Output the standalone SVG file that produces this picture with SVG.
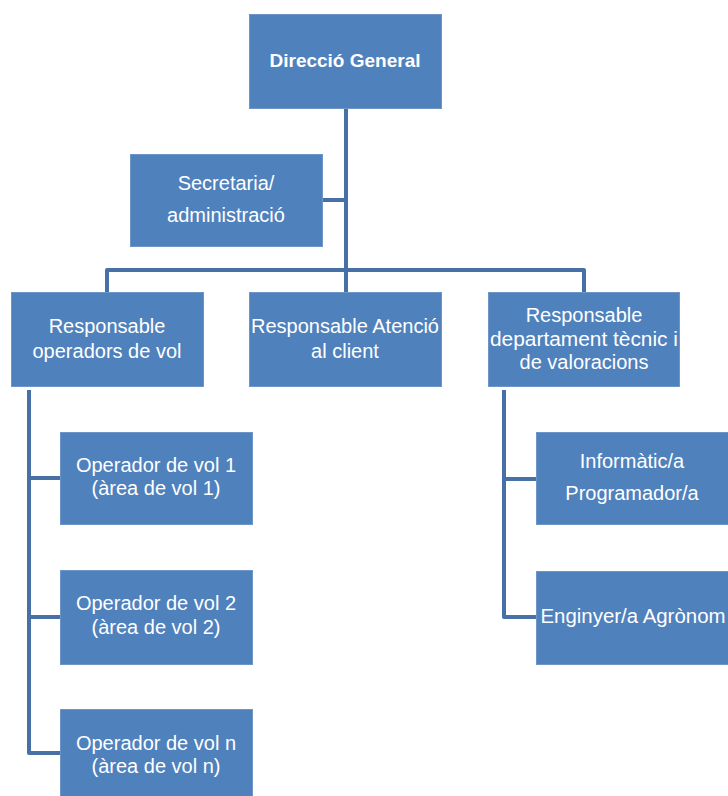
<svg xmlns="http://www.w3.org/2000/svg" width="728" height="796" viewBox="0 0 728 796">
<style>
.box{fill:#4F81BD;stroke:#6E95C8;stroke-width:1}
.t{font-family:"Liberation Sans",Arial,sans-serif;font-size:20px;fill:#FFFFFF;text-anchor:middle}
.b{font-weight:bold;font-size:19px}
.c{fill:none;stroke:#4670A6;stroke-width:4;stroke-linejoin:round;stroke-linecap:butt}
</style>
<rect width="728" height="796" fill="#FFFFFF"/>
<g id="connectors">
<path class="c" d="M346 108 V270"/>
<path class="c" d="M322 200 H346"/>
<path class="c" d="M107 292 V270 H584 V292"/>
<path class="c" d="M346 270 V292"/>
<path class="c" d="M29 390 V753 H60"/>
<path class="c" d="M29 478 H60"/>
<path class="c" d="M29 617 H60"/>
<path class="c" d="M504 390 V617 H536"/>
<path class="c" d="M504 479 H536"/>
</g>
<g id="direccio">
<rect class="box" x="249.5" y="14.5" width="192" height="94"/>
<text class="t b" x="345" y="67" textLength="151" lengthAdjust="spacingAndGlyphs">Direcció General</text>
</g>
<g id="secretaria">
<rect class="box" x="130.5" y="154.5" width="192" height="92"/>
<text class="t" x="226" y="190">Secretaria/</text>
<text class="t" x="226" y="222">administració</text>
</g>
<g id="resp-operadors">
<rect class="box" x="11.5" y="292.5" width="192" height="94"/>
<text class="t" x="107" y="333">Responsable</text>
<text class="t" x="107" y="358">operadors de vol</text>
</g>
<g id="resp-atencio">
<rect class="box" x="249.5" y="292.5" width="192" height="94"/>
<text class="t" x="345" y="333" textLength="188" lengthAdjust="spacingAndGlyphs">Responsable Atenció</text>
<text class="t" x="345" y="358">al client</text>
</g>
<g id="resp-tecnic">
<rect class="box" x="488.5" y="292.5" width="191" height="94"/>
<text class="t" x="584" y="322">Responsable</text>
<text class="t" x="584" y="346" textLength="188" lengthAdjust="spacingAndGlyphs">departament tècnic i</text>
<text class="t" x="584" y="369">de valoracions</text>
</g>
<g id="operador1">
<rect class="box" x="60.5" y="432.5" width="192" height="92"/>
<text class="t" x="156" y="472">Operador de vol 1</text>
<text class="t" x="156" y="495">(àrea de vol 1)</text>
</g>
<g id="operador2">
<rect class="box" x="60.5" y="570.5" width="192" height="94"/>
<text class="t" x="156" y="610">Operador de vol 2</text>
<text class="t" x="156" y="634">(àrea de vol 2)</text>
</g>
<g id="operadorn">
<rect class="box" x="60.5" y="709.5" width="192" height="90"/>
<text class="t" x="156" y="750">Operador de vol n</text>
<text class="t" x="156" y="773">(àrea de vol n)</text>
</g>
<g id="informatic">
<rect class="box" x="536.5" y="432.5" width="195" height="92"/>
<text class="t" x="632" y="468">Informàtic/a</text>
<text class="t" x="632" y="500">Programador/a</text>
</g>
<g id="enginyer">
<rect class="box" x="536.5" y="571.5" width="195" height="93"/>
<text class="t" x="633" y="623" textLength="185" lengthAdjust="spacingAndGlyphs">Enginyer/a Agrònom</text>
</g>
</svg>
